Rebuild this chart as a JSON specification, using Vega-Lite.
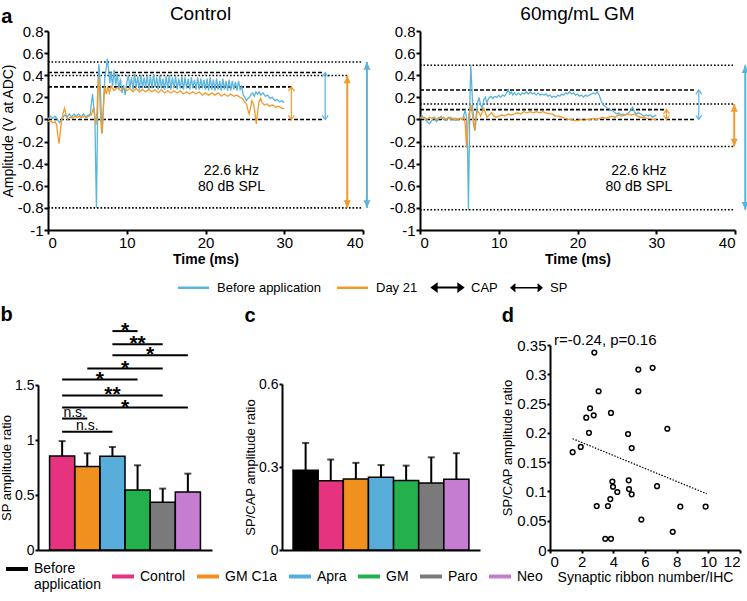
{
  "$schema": "https://vega.github.io/schema/vega-lite/v6.json",
  "padding": {"left": 0, "top": 5, "right": 5, "bottom": 5},
  "config": {
    "font": "Liberation Sans",
    "view": {"stroke": null},
    "axis": {"grid": false, "domainColor": "#000", "domainWidth": 2, "tickColor": "#000", "tickWidth": 2, "tickSize": 4, "labelColor": "#000", "labelFontSize": 15, "titleColor": "#000", "titleFontSize": 14, "titleFontWeight": "normal", "labelPadding": 1, "titlePadding": 2, "labelOverlap": false, "tickCount": 30},
    "title": {"fontWeight": "normal", "color": "#000"},
    "legend": {"labelColor": "#000"}
  },
  "datasets": {
    "tr": [
      {"p":"C","s":"B","t":0,"v":0},{"p":"C","s":"B","t":0.3,"v":0.03},{"p":"C","s":"B","t":0.6,"v":0.01},{"p":"C","s":"B","t":0.9,"v":0.03},{"p":"C","s":"B","t":1.2,"v":0},{"p":"C","s":"B","t":1.5,"v":-0.03},{"p":"C","s":"B","t":1.8,"v":0.01},{"p":"C","s":"B","t":2.1,"v":0.04},{"p":"C","s":"B","t":2.4,"v":0.02},{"p":"C","s":"B","t":2.7,"v":0.05},{"p":"C","s":"B","t":3,"v":0.02},{"p":"C","s":"B","t":3.3,"v":0.05},{"p":"C","s":"B","t":3.6,"v":0.03},{"p":"C","s":"B","t":3.9,"v":0.05},{"p":"C","s":"B","t":4.2,"v":0.02},{"p":"C","s":"B","t":4.5,"v":0.05},{"p":"C","s":"B","t":4.8,"v":0.02},{"p":"C","s":"B","t":5.1,"v":0.04},{"p":"C","s":"B","t":5.35,"v":0.04},{"p":"C","s":"B","t":5.5,"v":0.14},{"p":"C","s":"B","t":5.65,"v":0.23},{"p":"C","s":"B","t":5.8,"v":0.12},{"p":"C","s":"B","t":5.95,"v":0.04},{"p":"C","s":"B","t":6.05,"v":-0.4},{"p":"C","s":"B","t":6.15,"v":-0.8},{"p":"C","s":"B","t":6.25,"v":-0.25},{"p":"C","s":"B","t":6.35,"v":0.3},{"p":"C","s":"B","t":6.45,"v":0.5},{"p":"C","s":"B","t":6.6,"v":0.36},{"p":"C","s":"B","t":6.75,"v":0.08},{"p":"C","s":"B","t":6.9,"v":-0.12},{"p":"C","s":"B","t":7.05,"v":0.15},{"p":"C","s":"B","t":7.2,"v":0.36},{"p":"C","s":"B","t":7.4,"v":0.47},{"p":"C","s":"B","t":7.55,"v":0.55},{"p":"C","s":"B","t":7.7,"v":0.44},{"p":"C","s":"B","t":7.85,"v":0.33},{"p":"C","s":"B","t":8,"v":0.43},{"p":"C","s":"B","t":8.2,"v":0.3},{"p":"C","s":"B","t":8.4,"v":0.45},{"p":"C","s":"B","t":8.6,"v":0.31},{"p":"C","s":"B","t":8.8,"v":0.41},{"p":"C","s":"B","t":9,"v":0.27},{"p":"C","s":"B","t":9.2,"v":0.37},{"p":"C","s":"B","t":9.4,"v":0.24},{"p":"C","s":"B","t":9.6,"v":0.31},{"p":"C","s":"B","t":9.8,"v":0.22},{"p":"C","s":"B","t":10,"v":0.33},
      {"p":"C","s":"B","t":10.2,"v":0.4},{"p":"C","s":"B","t":10.4,"v":0.28},{"p":"C","s":"B","t":10.6,"v":0.38},{"p":"C","s":"B","t":10.8,"v":0.27},{"p":"C","s":"B","t":11,"v":0.41},{"p":"C","s":"B","t":11.2,"v":0.29},{"p":"C","s":"B","t":11.4,"v":0.39},{"p":"C","s":"B","t":11.6,"v":0.27},{"p":"C","s":"B","t":11.8,"v":0.4},{"p":"C","s":"B","t":12,"v":0.28},{"p":"C","s":"B","t":12.2,"v":0.38},{"p":"C","s":"B","t":12.4,"v":0.29},{"p":"C","s":"B","t":12.6,"v":0.4},{"p":"C","s":"B","t":12.8,"v":0.27},{"p":"C","s":"B","t":13,"v":0.39},{"p":"C","s":"B","t":13.2,"v":0.28},{"p":"C","s":"B","t":13.4,"v":0.41},{"p":"C","s":"B","t":13.6,"v":0.29},{"p":"C","s":"B","t":13.8,"v":0.38},{"p":"C","s":"B","t":14,"v":0.27},{"p":"C","s":"B","t":14.2,"v":0.4},{"p":"C","s":"B","t":14.4,"v":0.28},{"p":"C","s":"B","t":14.6,"v":0.37},{"p":"C","s":"B","t":14.8,"v":0.27},{"p":"C","s":"B","t":15,"v":0.39},{"p":"C","s":"B","t":15.2,"v":0.28},{"p":"C","s":"B","t":15.4,"v":0.4},{"p":"C","s":"B","t":15.6,"v":0.27},{"p":"C","s":"B","t":15.8,"v":0.38},{"p":"C","s":"B","t":16,"v":0.28},{"p":"C","s":"B","t":16.2,"v":0.39},{"p":"C","s":"B","t":16.4,"v":0.27},{"p":"C","s":"B","t":16.6,"v":0.37},{"p":"C","s":"B","t":16.8,"v":0.28},{"p":"C","s":"B","t":17,"v":0.39},{"p":"C","s":"B","t":17.2,"v":0.27},{"p":"C","s":"B","t":17.4,"v":0.38},{"p":"C","s":"B","t":17.6,"v":0.28},{"p":"C","s":"B","t":17.8,"v":0.37},{"p":"C","s":"B","t":18,"v":0.27},{"p":"C","s":"B","t":18.2,"v":0.38},{"p":"C","s":"B","t":18.4,"v":0.28},{"p":"C","s":"B","t":18.6,"v":0.36},{"p":"C","s":"B","t":18.8,"v":0.27},{"p":"C","s":"B","t":19,"v":0.38},{"p":"C","s":"B","t":19.2,"v":0.27},{"p":"C","s":"B","t":19.4,"v":0.37},{"p":"C","s":"B","t":19.6,"v":0.28},{"p":"C","s":"B","t":19.8,"v":0.36},{"p":"C","s":"B","t":20,"v":0.27},{"p":"C","s":"B","t":20.2,"v":0.37},{"p":"C","s":"B","t":20.4,"v":0.26},{"p":"C","s":"B","t":20.6,"v":0.38},{"p":"C","s":"B","t":20.8,"v":0.27},{"p":"C","s":"B","t":21,"v":0.36},{"p":"C","s":"B","t":21.2,"v":0.26},{"p":"C","s":"B","t":21.4,"v":0.37},{"p":"C","s":"B","t":21.6,"v":0.27},{"p":"C","s":"B","t":21.8,"v":0.35},{"p":"C","s":"B","t":22,"v":0.26},{"p":"C","s":"B","t":22.2,"v":0.37},{"p":"C","s":"B","t":22.4,"v":0.27},{"p":"C","s":"B","t":22.6,"v":0.35},{"p":"C","s":"B","t":22.8,"v":0.26},{"p":"C","s":"B","t":23,"v":0.36},{"p":"C","s":"B","t":23.2,"v":0.26},{"p":"C","s":"B","t":23.4,"v":0.35},{"p":"C","s":"B","t":23.6,"v":0.27},{"p":"C","s":"B","t":23.8,"v":0.34},{"p":"C","s":"B","t":24,"v":0.26},{"p":"C","s":"B","t":24.2,"v":0.35},{"p":"C","s":"B","t":24.4,"v":0.27},
      {"p":"C","s":"B","t":24.6,"v":0.3},{"p":"C","s":"B","t":24.8,"v":0.22},{"p":"C","s":"B","t":25,"v":0.2},{"p":"C","s":"B","t":25.2,"v":0.17},{"p":"C","s":"B","t":25.4,"v":0.19},{"p":"C","s":"B","t":25.6,"v":0.2},{"p":"C","s":"B","t":25.8,"v":0.23},{"p":"C","s":"B","t":26,"v":0.24},{"p":"C","s":"B","t":26.2,"v":0.21},{"p":"C","s":"B","t":26.4,"v":0.25},{"p":"C","s":"B","t":26.6,"v":0.23},{"p":"C","s":"B","t":26.8,"v":0.25},{"p":"C","s":"B","t":27,"v":0.22},{"p":"C","s":"B","t":27.3,"v":0.24},{"p":"C","s":"B","t":27.6,"v":0.21},{"p":"C","s":"B","t":27.9,"v":0.22},{"p":"C","s":"B","t":28.2,"v":0.19},{"p":"C","s":"B","t":28.5,"v":0.2},{"p":"C","s":"B","t":28.8,"v":0.17},{"p":"C","s":"B","t":29.1,"v":0.18},{"p":"C","s":"B","t":29.4,"v":0.16},{"p":"C","s":"B","t":29.7,"v":0.17},{"p":"C","s":"B","t":30,"v":0.15},
      {"p":"C","s":"D","t":0,"v":-0.02},{"p":"C","s":"D","t":0.3,"v":-0.01},{"p":"C","s":"D","t":0.6,"v":-0.03},{"p":"C","s":"D","t":0.9,"v":-0.02},{"p":"C","s":"D","t":1.1,"v":-0.05},{"p":"C","s":"D","t":1.25,"v":-0.15},{"p":"C","s":"D","t":1.4,"v":-0.22},{"p":"C","s":"D","t":1.55,"v":-0.12},{"p":"C","s":"D","t":1.7,"v":-0.02},{"p":"C","s":"D","t":1.9,"v":0.05},{"p":"C","s":"D","t":2.1,"v":0.1},{"p":"C","s":"D","t":2.3,"v":0.04},{"p":"C","s":"D","t":2.5,"v":0},{"p":"C","s":"D","t":2.8,"v":0.02},{"p":"C","s":"D","t":3.1,"v":0.01},{"p":"C","s":"D","t":3.4,"v":0.03},{"p":"C","s":"D","t":3.7,"v":0.02},{"p":"C","s":"D","t":4,"v":0.03},{"p":"C","s":"D","t":4.3,"v":0.02},{"p":"C","s":"D","t":4.6,"v":0.03},{"p":"C","s":"D","t":4.9,"v":0.02},{"p":"C","s":"D","t":5.2,"v":0.03},{"p":"C","s":"D","t":5.5,"v":0.04},{"p":"C","s":"D","t":5.75,"v":0.1},{"p":"C","s":"D","t":5.95,"v":0.02},{"p":"C","s":"D","t":6.1,"v":-0.05},{"p":"C","s":"D","t":6.25,"v":0.12},{"p":"C","s":"D","t":6.4,"v":0.38},{"p":"C","s":"D","t":6.55,"v":0.26},{"p":"C","s":"D","t":6.7,"v":-0.02},{"p":"C","s":"D","t":6.85,"v":-0.13},{"p":"C","s":"D","t":7,"v":0.05},{"p":"C","s":"D","t":7.2,"v":0.3},{"p":"C","s":"D","t":7.4,"v":0.23},{"p":"C","s":"D","t":7.6,"v":0.29},{"p":"C","s":"D","t":7.8,"v":0.24},{"p":"C","s":"D","t":8,"v":0.3},
      {"p":"C","s":"D","t":8.4,"v":0.26},{"p":"C","s":"D","t":8.8,"v":0.29},{"p":"C","s":"D","t":9.2,"v":0.26},{"p":"C","s":"D","t":9.6,"v":0.28},{"p":"C","s":"D","t":10,"v":0.26},{"p":"C","s":"D","t":10.4,"v":0.28},{"p":"C","s":"D","t":10.8,"v":0.25},{"p":"C","s":"D","t":11.2,"v":0.28},{"p":"C","s":"D","t":11.6,"v":0.25},{"p":"C","s":"D","t":12,"v":0.27},{"p":"C","s":"D","t":12.4,"v":0.25},{"p":"C","s":"D","t":12.8,"v":0.27},{"p":"C","s":"D","t":13.2,"v":0.25},{"p":"C","s":"D","t":13.6,"v":0.27},{"p":"C","s":"D","t":14,"v":0.24},{"p":"C","s":"D","t":14.4,"v":0.27},{"p":"C","s":"D","t":14.8,"v":0.24},{"p":"C","s":"D","t":15.2,"v":0.26},{"p":"C","s":"D","t":15.6,"v":0.24},{"p":"C","s":"D","t":16,"v":0.26},{"p":"C","s":"D","t":16.4,"v":0.24},{"p":"C","s":"D","t":16.8,"v":0.26},{"p":"C","s":"D","t":17.2,"v":0.23},{"p":"C","s":"D","t":17.6,"v":0.25},{"p":"C","s":"D","t":18,"v":0.23},{"p":"C","s":"D","t":18.4,"v":0.25},{"p":"C","s":"D","t":18.8,"v":0.23},{"p":"C","s":"D","t":19.2,"v":0.25},{"p":"C","s":"D","t":19.6,"v":0.22},{"p":"C","s":"D","t":20,"v":0.24},{"p":"C","s":"D","t":20.4,"v":0.22},{"p":"C","s":"D","t":20.8,"v":0.24},{"p":"C","s":"D","t":21.2,"v":0.22},{"p":"C","s":"D","t":21.6,"v":0.24},{"p":"C","s":"D","t":22,"v":0.21},{"p":"C","s":"D","t":22.4,"v":0.23},{"p":"C","s":"D","t":22.8,"v":0.21},{"p":"C","s":"D","t":23.2,"v":0.23},{"p":"C","s":"D","t":23.6,"v":0.21},{"p":"C","s":"D","t":24,"v":0.22},{"p":"C","s":"D","t":24.4,"v":0.2},
      {"p":"C","s":"D","t":24.7,"v":0.19},{"p":"C","s":"D","t":24.95,"v":0.16},{"p":"C","s":"D","t":25.2,"v":0.14},{"p":"C","s":"D","t":25.4,"v":0.08},{"p":"C","s":"D","t":25.55,"v":0.05},{"p":"C","s":"D","t":25.7,"v":0.1},{"p":"C","s":"D","t":25.9,"v":0.17},{"p":"C","s":"D","t":26.1,"v":0.14},{"p":"C","s":"D","t":26.3,"v":0.05},{"p":"C","s":"D","t":26.45,"v":-0.04},{"p":"C","s":"D","t":26.6,"v":0.05},{"p":"C","s":"D","t":26.8,"v":0.16},{"p":"C","s":"D","t":27,"v":0.19},{"p":"C","s":"D","t":27.2,"v":0.15},{"p":"C","s":"D","t":27.5,"v":0.13},{"p":"C","s":"D","t":27.8,"v":0.14},{"p":"C","s":"D","t":28.1,"v":0.12},{"p":"C","s":"D","t":28.5,"v":0.13},{"p":"C","s":"D","t":28.9,"v":0.11},{"p":"C","s":"D","t":29.3,"v":0.12},{"p":"C","s":"D","t":29.7,"v":0.1},{"p":"C","s":"D","t":30,"v":0.1},
      {"p":"G","s":"B","t":0,"v":0.01},{"p":"G","s":"B","t":0.3,"v":0.03},{"p":"G","s":"B","t":0.6,"v":0},{"p":"G","s":"B","t":0.9,"v":-0.02},{"p":"G","s":"B","t":1.2,"v":-0.04},{"p":"G","s":"B","t":1.5,"v":-0.01},{"p":"G","s":"B","t":1.8,"v":0.02},{"p":"G","s":"B","t":2.1,"v":-0.02},{"p":"G","s":"B","t":2.4,"v":0.01},{"p":"G","s":"B","t":2.7,"v":0.03},{"p":"G","s":"B","t":3,"v":0},{"p":"G","s":"B","t":3.3,"v":-0.01},{"p":"G","s":"B","t":3.6,"v":0.02},{"p":"G","s":"B","t":3.9,"v":0},{"p":"G","s":"B","t":4.2,"v":0.01},{"p":"G","s":"B","t":4.5,"v":-0.01},{"p":"G","s":"B","t":4.8,"v":0},{"p":"G","s":"B","t":5.1,"v":0.01},{"p":"G","s":"B","t":5.4,"v":0},{"p":"G","s":"B","t":5.6,"v":0.05},{"p":"G","s":"B","t":5.75,"v":0.08},{"p":"G","s":"B","t":5.9,"v":0.02},{"p":"G","s":"B","t":6.05,"v":-0.3},{"p":"G","s":"B","t":6.15,"v":-0.82},{"p":"G","s":"B","t":6.25,"v":-0.3},{"p":"G","s":"B","t":6.35,"v":0.2},{"p":"G","s":"B","t":6.45,"v":0.49},{"p":"G","s":"B","t":6.55,"v":0.35},{"p":"G","s":"B","t":6.7,"v":0.1},{"p":"G","s":"B","t":6.85,"v":-0.02},{"p":"G","s":"B","t":7,"v":-0.1},{"p":"G","s":"B","t":7.15,"v":0.05},{"p":"G","s":"B","t":7.3,"v":0.15},{"p":"G","s":"B","t":7.5,"v":0.2},{"p":"G","s":"B","t":7.7,"v":0.13},{"p":"G","s":"B","t":7.9,"v":0.1},{"p":"G","s":"B","t":8.1,"v":0.18},{"p":"G","s":"B","t":8.3,"v":0.2},{"p":"G","s":"B","t":8.5,"v":0.15},{"p":"G","s":"B","t":8.7,"v":0.19},{"p":"G","s":"B","t":9,"v":0.21},
      {"p":"G","s":"B","t":9.25,"v":0.19},{"p":"G","s":"B","t":9.5,"v":0.21},{"p":"G","s":"B","t":9.75,"v":0.2},{"p":"G","s":"B","t":10,"v":0.22},{"p":"G","s":"B","t":10.25,"v":0.2},{"p":"G","s":"B","t":10.5,"v":0.22},{"p":"G","s":"B","t":10.75,"v":0.21},{"p":"G","s":"B","t":11,"v":0.24},{"p":"G","s":"B","t":11.2,"v":0.27},{"p":"G","s":"B","t":11.4,"v":0.23},{"p":"G","s":"B","t":11.6,"v":0.25},{"p":"G","s":"B","t":11.8,"v":0.22},{"p":"G","s":"B","t":12,"v":0.24},{"p":"G","s":"B","t":12.25,"v":0.22},{"p":"G","s":"B","t":12.5,"v":0.24},{"p":"G","s":"B","t":12.75,"v":0.22},{"p":"G","s":"B","t":13,"v":0.24},{"p":"G","s":"B","t":13.25,"v":0.23},{"p":"G","s":"B","t":13.5,"v":0.25},{"p":"G","s":"B","t":13.75,"v":0.23},{"p":"G","s":"B","t":14,"v":0.25},{"p":"G","s":"B","t":14.25,"v":0.23},{"p":"G","s":"B","t":14.5,"v":0.24},{"p":"G","s":"B","t":14.75,"v":0.22},{"p":"G","s":"B","t":15,"v":0.24},{"p":"G","s":"B","t":15.25,"v":0.22},{"p":"G","s":"B","t":15.5,"v":0.23},{"p":"G","s":"B","t":15.75,"v":0.22},{"p":"G","s":"B","t":16,"v":0.23},{"p":"G","s":"B","t":16.25,"v":0.21},{"p":"G","s":"B","t":16.5,"v":0.22},{"p":"G","s":"B","t":16.75,"v":0.2},{"p":"G","s":"B","t":17,"v":0.21},{"p":"G","s":"B","t":17.25,"v":0.2},{"p":"G","s":"B","t":17.5,"v":0.22},{"p":"G","s":"B","t":17.75,"v":0.21},{"p":"G","s":"B","t":18,"v":0.23},{"p":"G","s":"B","t":18.25,"v":0.22},{"p":"G","s":"B","t":18.5,"v":0.24},{"p":"G","s":"B","t":18.75,"v":0.23},{"p":"G","s":"B","t":19,"v":0.25},{"p":"G","s":"B","t":19.25,"v":0.23},{"p":"G","s":"B","t":19.5,"v":0.24},{"p":"G","s":"B","t":19.75,"v":0.22},{"p":"G","s":"B","t":20,"v":0.23},{"p":"G","s":"B","t":20.25,"v":0.21},{"p":"G","s":"B","t":20.5,"v":0.22},{"p":"G","s":"B","t":20.75,"v":0.2},{"p":"G","s":"B","t":21,"v":0.22},{"p":"G","s":"B","t":21.25,"v":0.21},{"p":"G","s":"B","t":21.5,"v":0.22},{"p":"G","s":"B","t":21.75,"v":0.23},{"p":"G","s":"B","t":22,"v":0.24},{"p":"G","s":"B","t":22.25,"v":0.23},{"p":"G","s":"B","t":22.5,"v":0.25},{"p":"G","s":"B","t":22.75,"v":0.22},{"p":"G","s":"B","t":23,"v":0.17},{"p":"G","s":"B","t":23.25,"v":0.13},{"p":"G","s":"B","t":23.5,"v":0.12},{"p":"G","s":"B","t":23.75,"v":0.1},{"p":"G","s":"B","t":24,"v":0.1},{"p":"G","s":"B","t":24.25,"v":0.08},{"p":"G","s":"B","t":24.5,"v":0.08},{"p":"G","s":"B","t":24.75,"v":0.06},{"p":"G","s":"B","t":25,"v":0.05},{"p":"G","s":"B","t":25.25,"v":0.06},{"p":"G","s":"B","t":25.5,"v":0.04},{"p":"G","s":"B","t":25.75,"v":0.05},{"p":"G","s":"B","t":26,"v":0.04},{"p":"G","s":"B","t":26.25,"v":0.05},{"p":"G","s":"B","t":26.5,"v":0.06},{"p":"G","s":"B","t":26.75,"v":0.08},{"p":"G","s":"B","t":27,"v":0.11},{"p":"G","s":"B","t":27.2,"v":0.07},{"p":"G","s":"B","t":27.5,"v":0.05},{"p":"G","s":"B","t":27.75,"v":0.06},{"p":"G","s":"B","t":28,"v":0.05},{"p":"G","s":"B","t":28.25,"v":0.04},{"p":"G","s":"B","t":28.5,"v":0.03},{"p":"G","s":"B","t":28.75,"v":0.04},{"p":"G","s":"B","t":29,"v":0.03},{"p":"G","s":"B","t":29.25,"v":0.04},{"p":"G","s":"B","t":29.5,"v":0.02},{"p":"G","s":"B","t":29.75,"v":0.03},{"p":"G","s":"B","t":30,"v":0.04},
      {"p":"G","s":"D","t":0,"v":0.02},{"p":"G","s":"D","t":0.3,"v":0.01},{"p":"G","s":"D","t":0.6,"v":0.02},{"p":"G","s":"D","t":0.9,"v":0},{"p":"G","s":"D","t":1.2,"v":0.02},{"p":"G","s":"D","t":1.5,"v":0.01},{"p":"G","s":"D","t":1.8,"v":0.02},{"p":"G","s":"D","t":2.1,"v":0},{"p":"G","s":"D","t":2.4,"v":0.02},{"p":"G","s":"D","t":2.7,"v":0.01},{"p":"G","s":"D","t":3,"v":0.02},{"p":"G","s":"D","t":3.3,"v":0},{"p":"G","s":"D","t":3.6,"v":0.01},{"p":"G","s":"D","t":3.9,"v":0.02},{"p":"G","s":"D","t":4.2,"v":0},{"p":"G","s":"D","t":4.5,"v":0.01},{"p":"G","s":"D","t":4.8,"v":0},{"p":"G","s":"D","t":5.1,"v":0.01},{"p":"G","s":"D","t":5.4,"v":0},{"p":"G","s":"D","t":5.6,"v":0.02},{"p":"G","s":"D","t":5.75,"v":-0.05},{"p":"G","s":"D","t":5.9,"v":-0.25},{"p":"G","s":"D","t":6.05,"v":-0.1},{"p":"G","s":"D","t":6.2,"v":0.05},{"p":"G","s":"D","t":6.35,"v":0.08},{"p":"G","s":"D","t":6.5,"v":0.13},{"p":"G","s":"D","t":6.65,"v":0.05},{"p":"G","s":"D","t":6.8,"v":-0.05},{"p":"G","s":"D","t":6.95,"v":-0.1},{"p":"G","s":"D","t":7.1,"v":0},{"p":"G","s":"D","t":7.3,"v":0.08},{"p":"G","s":"D","t":7.5,"v":0.06},{"p":"G","s":"D","t":7.7,"v":0.03},{"p":"G","s":"D","t":7.9,"v":0.07},{"p":"G","s":"D","t":8.1,"v":0.1},{"p":"G","s":"D","t":8.3,"v":0.06},{"p":"G","s":"D","t":8.5,"v":0.02},{"p":"G","s":"D","t":8.8,"v":0.04},{"p":"G","s":"D","t":9.1,"v":0.06},{"p":"G","s":"D","t":9.4,"v":0.03},{"p":"G","s":"D","t":9.7,"v":0.02},{"p":"G","s":"D","t":10,"v":0.03},{"p":"G","s":"D","t":10.4,"v":0.04},{"p":"G","s":"D","t":10.8,"v":0.03},{"p":"G","s":"D","t":11.2,"v":0.05},{"p":"G","s":"D","t":11.6,"v":0.04},{"p":"G","s":"D","t":12,"v":0.05},{"p":"G","s":"D","t":12.4,"v":0.06},{"p":"G","s":"D","t":12.8,"v":0.05},{"p":"G","s":"D","t":13.2,"v":0.07},{"p":"G","s":"D","t":13.6,"v":0.06},{"p":"G","s":"D","t":14,"v":0.07},{"p":"G","s":"D","t":14.4,"v":0.06},{"p":"G","s":"D","t":14.8,"v":0.07},{"p":"G","s":"D","t":15.2,"v":0.06},{"p":"G","s":"D","t":15.6,"v":0.07},{"p":"G","s":"D","t":16,"v":0.06},{"p":"G","s":"D","t":16.4,"v":0.05},{"p":"G","s":"D","t":16.8,"v":0.05},{"p":"G","s":"D","t":17.2,"v":0.03},{"p":"G","s":"D","t":17.6,"v":0.03},{"p":"G","s":"D","t":18,"v":0.02},{"p":"G","s":"D","t":18.4,"v":0.01},{"p":"G","s":"D","t":18.8,"v":0},{"p":"G","s":"D","t":19.2,"v":0},{"p":"G","s":"D","t":19.6,"v":-0.01},{"p":"G","s":"D","t":20,"v":-0.01},{"p":"G","s":"D","t":20.4,"v":0},{"p":"G","s":"D","t":20.8,"v":-0.01},{"p":"G","s":"D","t":21.2,"v":0},{"p":"G","s":"D","t":21.6,"v":0},{"p":"G","s":"D","t":22,"v":0.01},{"p":"G","s":"D","t":22.4,"v":0},{"p":"G","s":"D","t":22.8,"v":0.01},{"p":"G","s":"D","t":23.2,"v":0.02},{"p":"G","s":"D","t":23.6,"v":0.01},{"p":"G","s":"D","t":24,"v":0.02},{"p":"G","s":"D","t":24.4,"v":0.03},{"p":"G","s":"D","t":24.8,"v":0.02},{"p":"G","s":"D","t":25.2,"v":0.04},{"p":"G","s":"D","t":25.6,"v":0.03},{"p":"G","s":"D","t":26,"v":0.04},{"p":"G","s":"D","t":26.4,"v":0.05},{"p":"G","s":"D","t":26.8,"v":0.04},{"p":"G","s":"D","t":27.2,"v":0.05},{"p":"G","s":"D","t":27.6,"v":0.03},{"p":"G","s":"D","t":28,"v":0.02},{"p":"G","s":"D","t":28.4,"v":0.02},{"p":"G","s":"D","t":28.8,"v":0.01},{"p":"G","s":"D","t":29.2,"v":0.01},{"p":"G","s":"D","t":29.6,"v":0},{"p":"G","s":"D","t":30,"v":0}
    ],
    "ref": [
      {"p":"C","y":0.52,"x1":0,"x2":40,"d":"dot"},{"p":"C","y":0.424,"x1":0,"x2":35,"d":"dash"},{"p":"C","y":0.397,"x1":0,"x2":38,"d":"dot"},{"p":"C","y":0.295,"x1":0,"x2":31,"d":"dash"},{"p":"C","y":0,"x1":0,"x2":35,"d":"dash"},{"p":"C","y":-0.8,"x1":0,"x2":40,"d":"dot"},
      {"p":"G","y":0.49,"x1":0,"x2":40,"d":"dot"},{"p":"G","y":0.267,"x1":0,"x2":35,"d":"dash"},{"p":"G","y":0.14,"x1":0,"x2":40,"d":"dot"},{"p":"G","y":0.089,"x1":0,"x2":31,"d":"dash"},{"p":"G","y":0,"x1":0,"x2":35,"d":"dash"},{"p":"G","y":-0.245,"x1":0,"x2":40,"d":"dot"},{"p":"G","y":-0.817,"x1":0,"x2":40,"d":"dot"}
    ],
    "arr": [
      {"p":"C","s":"B","k":"SP","x":35.2,"lo":0,"hi":0.424},{"p":"C","s":"D","k":"SP","x":30.9,"lo":0,"hi":0.295},{"p":"C","s":"D","k":"CAP","x":38,"lo":-0.8,"hi":0.397},{"p":"C","s":"B","k":"CAP","x":40.5,"lo":-0.8,"hi":0.52},
      {"p":"G","s":"B","k":"SP","x":35.4,"lo":0,"hi":0.267},{"p":"G","s":"D","k":"SP","x":31.3,"lo":0,"hi":0.089},{"p":"G","s":"D","k":"CAP","x":39.9,"lo":-0.245,"hi":0.14},{"p":"G","s":"B","k":"CAP","x":41.3,"lo":-0.817,"hi":0.49}
    ],
    "ann": [
      {"p":"C","t":23.3,"v":-0.47,"l":"22.6 kHz"},{"p":"C","t":23.3,"v":-0.61,"l":"80 dB SPL"},
      {"p":"G","t":27.8,"v":-0.47,"l":"22.6 kHz"},{"p":"G","t":27.8,"v":-0.61,"l":"80 dB SPL"}
    ],
    "bb": [
      {"g":"Control","v":0.855,"hi":0.99},{"g":"GM C1a","v":0.758,"hi":0.879},{"g":"Apra","v":0.852,"hi":0.936},{"g":"GM","v":0.545,"hi":0.77},{"g":"Paro","v":0.433,"hi":0.558},{"g":"Neo","v":0.527,"hi":0.694}
    ],
    "cc": [
      {"g":"Before application","v":0.288,"hi":0.387},{"g":"Control","v":0.25,"hi":0.327},{"g":"GM C1a","v":0.257,"hi":0.315},{"g":"Apra","v":0.263,"hi":0.307},{"g":"GM","v":0.251,"hi":0.305},{"g":"Paro","v":0.242,"hi":0.335},{"g":"Neo","v":0.256,"hi":0.35}
    ],
    "sig": [
      {"a":"Apra","b":"GM","y":1.99,"l":"*","m":"Apra","pos":"e"},
      {"a":"Apra","b":"Paro","y":1.87,"l":"**","m":"GM","pos":"c"},
      {"a":"Apra","b":"Neo","y":1.77,"l":"*","m":"GM","pos":"e"},
      {"a":"GM C1a","b":"Paro","y":1.65,"l":"*","m":"Apra","pos":"e"},
      {"a":"Control","b":"GM","y":1.55,"l":"*","m":"GM C1a","pos":"e"},
      {"a":"Control","b":"Paro","y":1.405,"l":"**","m":"Apra","pos":"c"},
      {"a":"Control","b":"Neo","y":1.295,"l":"*","m":"Apra","pos":"e"},
      {"a":"Control","b":"GM C1a","y":1.195,"l":"n.s.","m":"Control","pos":"e"},
      {"a":"Control","b":"Apra","y":1.075,"l":"n.s.","m":"GM C1a","pos":"c"}
    ],
    "pts": [
      {"x":2.8,"y":0.337},{"x":5.58,"y":0.308},{"x":6.48,"y":0.311},{"x":3.07,"y":0.271},{"x":5.58,"y":0.271},{"x":2.53,"y":0.242},{"x":2.29,"y":0.226},{"x":2.76,"y":0.23},{"x":3.85,"y":0.234},{"x":2.46,"y":0.2},{"x":4.93,"y":0.198},{"x":7.41,"y":0.207},{"x":5.16,"y":0.174},{"x":1.94,"y":0.176},{"x":1.43,"y":0.167},{"x":3.94,"y":0.117},{"x":4.97,"y":0.119},{"x":3.98,"y":0.108},{"x":4.99,"y":0.104},{"x":4.25,"y":0.099},{"x":5.16,"y":0.095},{"x":3.81,"y":0.087},{"x":2.95,"y":0.075},{"x":3.66,"y":0.075},{"x":6.76,"y":0.109},{"x":8.23,"y":0.074},{"x":9.83,"y":0.074},{"x":5.77,"y":0.052},{"x":7.75,"y":0.031},{"x":3.49,"y":0.019},{"x":3.85,"y":0.019}
    ],
    "fit": [{"x":1.43,"y":0.19},{"x":9.9,"y":0.096}],
    "rtxt": [{"x":0.25,"y":0.358,"l":"r=-0.24, p=0.16"}]
  },
  "resolve": {"scale": {"color": "independent", "strokeDash": "independent", "strokeWidth": "independent"}},
  "columns": 1,
  "spacing": 10,
  "concat": [
    {
      "title": {"text": "a", "anchor": "start", "frame": "bounds", "fontSize": 20, "fontWeight": "bold", "offset": 0, "dy": 22},
      "spacing": 18,
      "hconcat": [
        {
          "width": 325, "height": 199,
          "title": {"text": "Control", "fontSize": 19, "offset": 0},
          "layer": [
            {"data": {"name": "ref"}, "transform": [{"filter": "datum.p == 'C'"}],
             "mark": {"type": "rule", "strokeWidth": 1.6, "color": "#000"},
             "encoding": {
               "x": {"field": "x1", "type": "quantitative", "scale": {"domain": [0, 40], "range": [10, 325], "nice": false}, "axis": {"values": [0, 10, 20, 30, 40], "title": "Time (ms)", "titleFontWeight": "bold"}},
               "x2": {"field": "x2"},
               "y": {"field": "y", "type": "quantitative", "scale": {"domain": [-1, 0.8], "nice": false}, "axis": {"values": [-1, -0.8, -0.6, -0.4, -0.2, 0, 0.2, 0.4, 0.6, 0.8], "title": "Amplitude (V at ADC)", "offset": -10, "labelExpr": "replace(format(datum.value, '~g'), '\u2212', '-')"}},
               "strokeDash": {"field": "d", "type": "nominal", "scale": {"domain": ["dash", "dot"], "range": [[4, 2], [1.6, 1.9]]}, "legend": null}
             }},
            {"data": {"name": "tr"}, "transform": [{"filter": "datum.p == 'C'"}],
             "mark": {"type": "line", "strokeWidth": 1.3},
             "encoding": {
               "x": {"field": "t", "type": "quantitative", "scale": {"domain": [0, 40], "range": [10, 325], "nice": false}},
               "y": {"field": "v", "type": "quantitative", "scale": {"domain": [-1, 0.8], "nice": false}},
               "color": {"field": "s", "type": "nominal", "scale": {"domain": ["B", "D", "CAP", "SP"], "range": ["#5AB4DC", "#F39A2B", "#000000", "#000000"]},
                 "legend": {"orient": "none", "legendX": 149, "legendY": 250, "direction": "horizontal", "title": null, "labelFontSize": 13, "symbolType": "stroke", "symbolSize": 961, "symbolStrokeWidth": 2, "labelOffset": 17, "columnPadding": 10,
                   "labelExpr": "datum.label == 'B' ? 'Before application' : datum.label == 'D' ? 'Day 21' : datum.label",
                   "encode": {"symbols": {"update": {
                     "shape": {"signal": "datum.value === 'CAP' ? 'M-1,0L1,0M-1,0L-0.7,-0.22L-0.7,0.22ZM1,0L0.7,-0.22L0.7,0.22Z' : datum.value === 'SP' ? 'M-1,0L1,0M-0.72,-0.25L-1,0L-0.72,0.25M0.72,-0.25L1,0L0.72,0.25' : 'stroke'"},
                     "stroke": {"signal": "datum.value === 'B' ? '#5AB4DC' : datum.value === 'D' ? '#F39A2B' : '#000000'"},
                     "fill": {"signal": "datum.value === 'CAP' ? '#000000' : 'transparent'"},
                     "strokeWidth": {"signal": "datum.value === 'SP' ? 1.3 : datum.value === 'CAP' ? 2 : 2.5"},
                     "opacity": {"value": 1}}}}}}
             }},
            {"data": {"name": "arr"}, "transform": [{"filter": "datum.p == 'C'"}],
             "mark": {"type": "rule", "clip": false},
             "encoding": {
               "x": {"field": "x", "type": "quantitative", "scale": {"domain": [0, 40], "range": [10, 325], "nice": false}},
               "y": {"field": "lo", "type": "quantitative", "scale": {"domain": [-1, 0.8], "nice": false}},
               "y2": {"field": "hi"},
               "color": {"field": "s", "type": "nominal"},
               "strokeWidth": {"field": "k", "type": "nominal", "scale": {"domain": ["CAP", "SP"], "range": [2, 1.2]}, "legend": null}
             }},
            {"data": {"name": "arr"}, "transform": [{"filter": "datum.p == 'C' && datum.k == 'CAP'"}],
             "mark": {"type": "point", "filled": true, "opacity": 1, "size": 49, "shape": "M0,0L-1,2.2L1,2.2Z", "clip": false},
             "encoding": {"x": {"field": "x", "type": "quantitative"}, "y": {"field": "hi", "type": "quantitative"}, "color": {"field": "s", "type": "nominal"}}},
            {"data": {"name": "arr"}, "transform": [{"filter": "datum.p == 'C' && datum.k == 'CAP'"}],
             "mark": {"type": "point", "filled": true, "opacity": 1, "size": 49, "shape": "M0,0L-1,-2.2L1,-2.2Z", "clip": false},
             "encoding": {"x": {"field": "x", "type": "quantitative"}, "y": {"field": "lo", "type": "quantitative"}, "color": {"field": "s", "type": "nominal"}}},
            {"data": {"name": "arr"}, "transform": [{"filter": "datum.p == 'C' && datum.k == 'SP'"}],
             "mark": {"type": "point", "filled": false, "opacity": 1, "size": 36, "strokeWidth": 1.2, "shape": "M-1,1.4L0,0L1,1.4", "clip": false},
             "encoding": {"x": {"field": "x", "type": "quantitative"}, "y": {"field": "hi", "type": "quantitative"}, "color": {"field": "s", "type": "nominal"}}},
            {"data": {"name": "arr"}, "transform": [{"filter": "datum.p == 'C' && datum.k == 'SP'"}],
             "mark": {"type": "point", "filled": false, "opacity": 1, "size": 36, "strokeWidth": 1.2, "shape": "M-1,-1.4L0,0L1,-1.4", "clip": false},
             "encoding": {"x": {"field": "x", "type": "quantitative"}, "y": {"field": "lo", "type": "quantitative"}, "color": {"field": "s", "type": "nominal"}}},
            {"data": {"name": "ann"}, "transform": [{"filter": "datum.p == 'C'"}],
             "mark": {"type": "text", "fontSize": 14, "align": "center", "baseline": "middle", "color": "#000"},
             "encoding": {"x": {"field": "t", "type": "quantitative"}, "y": {"field": "v", "type": "quantitative"}, "text": {"field": "l"}}}
          ]
        },
        {
          "width": 315, "height": 199,
          "title": {"text": "60mg/mL GM", "fontSize": 19, "offset": 0},
          "layer": [
            {"data": {"name": "ref"}, "transform": [{"filter": "datum.p == 'G'"}],
             "mark": {"type": "rule", "strokeWidth": 1.6, "color": "#000"},
             "encoding": {
               "x": {"field": "x1", "type": "quantitative", "scale": {"domain": [0, 40], "nice": false}, "axis": {"values": [0, 10, 20, 30, 40], "title": "Time (ms)", "titleFontWeight": "bold"}},
               "x2": {"field": "x2"},
               "y": {"field": "y", "type": "quantitative", "scale": {"domain": [-1, 0.8], "nice": false}, "axis": {"values": [-1, -0.8, -0.6, -0.4, -0.2, 0, 0.2, 0.4, 0.6, 0.8], "title": null, "labelExpr": "replace(format(datum.value, '~g'), '\u2212', '-')"}},
               "strokeDash": {"field": "d", "type": "nominal", "scale": {"domain": ["dash", "dot"], "range": [[4, 2], [1.6, 1.9]]}, "legend": null}
             }},
            {"data": {"name": "tr"}, "transform": [{"filter": "datum.p == 'G'"}],
             "mark": {"type": "line", "strokeWidth": 1.3},
             "encoding": {
               "x": {"field": "t", "type": "quantitative", "scale": {"domain": [0, 40], "nice": false}},
               "y": {"field": "v", "type": "quantitative", "scale": {"domain": [-1, 0.8], "nice": false}},
               "color": {"field": "s", "type": "nominal", "scale": {"domain": ["B", "D", "CAP", "SP"], "range": ["#5AB4DC", "#F39A2B", "#000000", "#000000"]}}
             }},
            {"data": {"name": "arr"}, "transform": [{"filter": "datum.p == 'G'"}],
             "mark": {"type": "rule", "clip": false},
             "encoding": {
               "x": {"field": "x", "type": "quantitative", "scale": {"domain": [0, 40], "nice": false}},
               "y": {"field": "lo", "type": "quantitative", "scale": {"domain": [-1, 0.8], "nice": false}},
               "y2": {"field": "hi"},
               "color": {"field": "s", "type": "nominal"},
               "strokeWidth": {"field": "k", "type": "nominal", "scale": {"domain": ["CAP", "SP"], "range": [2, 1.2]}, "legend": null}
             }},
            {"data": {"name": "arr"}, "transform": [{"filter": "datum.p == 'G' && datum.k == 'CAP'"}],
             "mark": {"type": "point", "filled": true, "opacity": 1, "size": 49, "shape": "M0,0L-1,2.2L1,2.2Z", "clip": false},
             "encoding": {"x": {"field": "x", "type": "quantitative"}, "y": {"field": "hi", "type": "quantitative"}, "color": {"field": "s", "type": "nominal"}}},
            {"data": {"name": "arr"}, "transform": [{"filter": "datum.p == 'G' && datum.k == 'CAP'"}],
             "mark": {"type": "point", "filled": true, "opacity": 1, "size": 49, "shape": "M0,0L-1,-2.2L1,-2.2Z", "clip": false},
             "encoding": {"x": {"field": "x", "type": "quantitative"}, "y": {"field": "lo", "type": "quantitative"}, "color": {"field": "s", "type": "nominal"}}},
            {"data": {"name": "arr"}, "transform": [{"filter": "datum.p == 'G' && datum.k == 'SP'"}],
             "mark": {"type": "point", "filled": false, "opacity": 1, "size": 36, "strokeWidth": 1.2, "shape": "M-1,1.4L0,0L1,1.4", "clip": false},
             "encoding": {"x": {"field": "x", "type": "quantitative"}, "y": {"field": "hi", "type": "quantitative"}, "color": {"field": "s", "type": "nominal"}}},
            {"data": {"name": "arr"}, "transform": [{"filter": "datum.p == 'G' && datum.k == 'SP'"}],
             "mark": {"type": "point", "filled": false, "opacity": 1, "size": 36, "strokeWidth": 1.2, "shape": "M-1,-1.4L0,0L1,-1.4", "clip": false},
             "encoding": {"x": {"field": "x", "type": "quantitative"}, "y": {"field": "lo", "type": "quantitative"}, "color": {"field": "s", "type": "nominal"}}},
            {"data": {"name": "ann"}, "transform": [{"filter": "datum.p == 'G'"}],
             "mark": {"type": "text", "fontSize": 14, "align": "center", "baseline": "middle", "color": "#000"},
             "encoding": {"x": {"field": "t", "type": "quantitative"}, "y": {"field": "v", "type": "quantitative"}, "text": {"field": "l"}}}
          ]
        }
      ]
    },
    {
      "spacing": 70,
      "bounds": "flush",
      "resolve": {"scale": {"color": "independent"}},
      "hconcat": [
        {
          "width": 174, "height": 205,
          "title": {"text": "b", "anchor": "start", "frame": "bounds", "fontSize": 20, "fontWeight": "bold", "offset": -5},
          "layer": [
            {"data": {"name": "bb"}, "mark": {"type": "bar"},
             "encoding": {
               "x": {"field": "g", "type": "nominal", "sort": null, "scale": {"domain": ["Control", "GM C1a", "Apra", "GM", "Paro", "Neo"], "paddingInner": 0, "paddingOuter": 0.46}, "axis": {"labels": false, "ticks": false, "title": null}},
               "y": {"field": "v", "type": "quantitative", "scale": {"domain": [0, 1.5], "range": [205, 40], "nice": false}, "axis": {"values": [0, 0.5, 1, 1.5], "format": "~g", "title": "SP amplitude ratio", "labelFontSize": 14, "titleFontSize": 13, "titlePadding": 1, "tickSize": 3}},
               "color": {"field": "g", "type": "nominal",
                 "scale": {"domain": ["Before application", "Control", "GM C1a", "Apra", "GM", "Paro", "Neo"], "range": ["#000000", "#E5337F", "#F0901E", "#59ADDA", "#22B14C", "#7A7A7A", "#C57DD2"]},
                 "legend": {"orient": "none", "legendX": -34, "legendY": 211, "direction": "horizontal", "title": null, "symbolType": "stroke", "symbolSize": 484, "symbolStrokeWidth": 4, "labelFontSize": 14, "labelOffset": 4, "columnPadding": 3,
                   "labelExpr": "datum.label == 'Before application' ? ['Before', 'application'] : datum.label",
                   "encode": {"symbols": {"update": {
                     "stroke": {"signal": "datum.value === 'Before application' ? '#000000' : datum.value === 'Control' ? '#E5337F' : datum.value === 'GM C1a' ? '#F0901E' : datum.value === 'Apra' ? '#59ADDA' : datum.value === 'GM' ? '#22B14C' : datum.value === 'Paro' ? '#7A7A7A' : '#C57DD2'"},
                     "fill": {"value": "transparent"},
                     "strokeWidth": {"value": 4},
                     "opacity": {"value": 1}}}}}}
             }},
            {"data": {"name": "bb"}, "mark": {"type": "bar", "fill": null, "fillOpacity": 0, "stroke": "#000", "strokeWidth": 1.5},
             "encoding": {"x": {"field": "g", "type": "nominal"}, "y": {"field": "v", "type": "quantitative"}}},
            {"data": {"name": "bb"}, "mark": {"type": "rule", "strokeWidth": 2, "color": "#000"},
             "encoding": {"x": {"field": "g", "type": "nominal"}, "y": {"field": "v", "type": "quantitative"}, "y2": {"field": "hi"}}},
            {"data": {"name": "bb"}, "mark": {"type": "tick", "color": "#000", "thickness": 2, "size": 7},
             "encoding": {"x": {"field": "g", "type": "nominal"}, "y": {"field": "hi", "type": "quantitative"}}},
            {"data": {"name": "sig"}, "mark": {"type": "rule", "strokeWidth": 2, "color": "#000", "clip": false},
             "encoding": {"x": {"field": "a", "type": "nominal"}, "x2": {"field": "b"}, "y": {"field": "y", "type": "quantitative"}}},
            {"data": {"name": "sig"}, "transform": [{"filter": "datum.l != 'n.s.' && datum.pos == 'c'"}],
             "mark": {"type": "text", "fontSize": 21, "fontWeight": "bold", "baseline": "alphabetic", "dy": 6, "color": "#000", "clip": false},
             "encoding": {"x": {"field": "m", "type": "nominal", "bandPosition": 0.5}, "y": {"field": "y", "type": "quantitative"}, "text": {"field": "l"}}},
            {"data": {"name": "sig"}, "transform": [{"filter": "datum.l != 'n.s.' && datum.pos == 'e'"}],
             "mark": {"type": "text", "fontSize": 21, "fontWeight": "bold", "baseline": "alphabetic", "dy": 6, "color": "#000", "clip": false},
             "encoding": {"x": {"field": "m", "type": "nominal", "bandPosition": 1}, "y": {"field": "y", "type": "quantitative"}, "text": {"field": "l"}}},
            {"data": {"name": "sig"}, "transform": [{"filter": "datum.l == 'n.s.' && datum.pos == 'c'"}],
             "mark": {"type": "text", "fontSize": 14, "baseline": "alphabetic", "dy": -2, "color": "#000"},
             "encoding": {"x": {"field": "m", "type": "nominal", "bandPosition": 0.5}, "y": {"field": "y", "type": "quantitative"}, "text": {"field": "l"}}},
            {"data": {"name": "sig"}, "transform": [{"filter": "datum.l == 'n.s.' && datum.pos == 'e'"}],
             "mark": {"type": "text", "fontSize": 14, "baseline": "alphabetic", "dy": -2, "color": "#000"},
             "encoding": {"x": {"field": "m", "type": "nominal", "bandPosition": 1}, "y": {"field": "y", "type": "quantitative"}, "text": {"field": "l"}}}
          ]
        },
        {
          "width": 198, "height": 205,
          "title": {"text": "c", "anchor": "start", "frame": "bounds", "fontSize": 20, "fontWeight": "bold", "offset": 19},
          "layer": [
            {"data": {"name": "cc"}, "mark": {"type": "bar", "stroke": "#000", "strokeWidth": 1.5},
             "encoding": {
               "x": {"field": "g", "type": "nominal", "sort": null, "scale": {"domain": ["Before application", "Control", "GM C1a", "Apra", "GM", "Paro", "Neo"], "paddingInner": 0, "paddingOuter": 0.44}, "axis": {"labels": false, "ticks": false, "title": null}},
               "y": {"field": "v", "type": "quantitative", "scale": {"domain": [0, 0.6], "range": [205, 39], "nice": false}, "axis": {"values": [0, 0.3, 0.6], "format": "~g", "title": "SP/CAP amplitude ratio", "labelFontSize": 14, "titleFontSize": 13, "titlePadding": 1, "tickSize": 3}},
               "color": {"field": "g", "type": "nominal",
                 "scale": {"domain": ["Before application", "Control", "GM C1a", "Apra", "GM", "Paro", "Neo"], "range": ["#000000", "#E5337F", "#F0901E", "#59ADDA", "#22B14C", "#7A7A7A", "#C57DD2"]},
                 "legend": null}
             }},
            {"data": {"name": "cc"}, "mark": {"type": "rule", "strokeWidth": 2, "color": "#000"},
             "encoding": {"x": {"field": "g", "type": "nominal"}, "y": {"field": "v", "type": "quantitative"}, "y2": {"field": "hi"}}},
            {"data": {"name": "cc"}, "mark": {"type": "tick", "color": "#000", "thickness": 2, "size": 7},
             "encoding": {"x": {"field": "g", "type": "nominal"}, "y": {"field": "hi", "type": "quantitative"}}}
          ]
        },
        {
          "width": 190, "height": 205,
          "title": {"text": "d", "anchor": "start", "frame": "bounds", "fontSize": 20, "fontWeight": "bold", "offset": 7},
          "layer": [
            {"data": {"name": "pts"}, "mark": {"type": "point", "shape": "circle", "filled": false, "color": "#000", "strokeWidth": 1.5, "size": 22, "opacity": 1},
             "encoding": {
               "x": {"field": "x", "type": "quantitative", "scale": {"domain": [0, 12], "nice": false}, "axis": {"values": [0, 2, 4, 6, 8, 10, 12], "format": "~g", "title": "Synaptic ribbon number/IHC", "labelFontSize": 15, "titlePadding": 1, "tickSize": 3}},
               "y": {"field": "y", "type": "quantitative", "scale": {"domain": [0, 0.35], "nice": false}, "axis": {"values": [0, 0.05, 0.1, 0.15, 0.2, 0.25, 0.3, 0.35], "format": "~g", "title": "SP/CAP amplitude ratio", "labelFontSize": 15, "titleFontSize": 13, "tickSize": 3}}
             }},
            {"data": {"name": "fit"}, "mark": {"type": "line", "color": "#000", "strokeWidth": 1.2, "strokeDash": [1.5, 1.5]},
             "encoding": {"x": {"field": "x", "type": "quantitative"}, "y": {"field": "y", "type": "quantitative"}}},
            {"data": {"name": "rtxt"}, "mark": {"type": "text", "fontSize": 15, "align": "left", "baseline": "middle", "color": "#000", "clip": false},
             "encoding": {"x": {"field": "x", "type": "quantitative"}, "y": {"field": "y", "type": "quantitative"}, "text": {"field": "l"}}}
          ]
        }
      ]
    }
  ]
}
